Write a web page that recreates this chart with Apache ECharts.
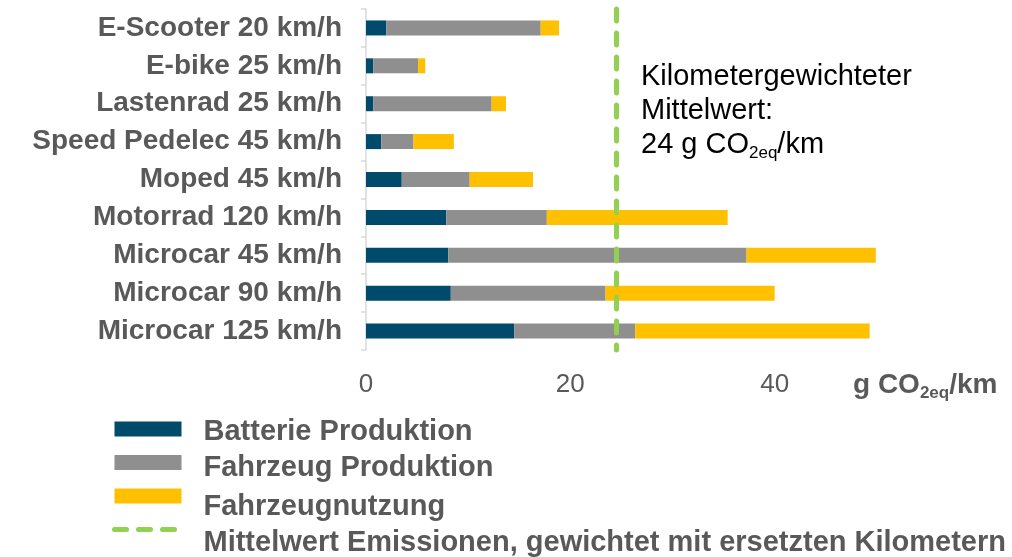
<!DOCTYPE html>
<html>
<head>
<meta charset="utf-8">
<script src="https://cdn.jsdelivr.net/npm/echarts@6/dist/echarts.min.js"></script>
<style>
html,body{margin:0;padding:0;background:#fff;}
#chart{width:1012px;height:557px;}
</style>
</head>
<body>
<div id="chart"></div>
<script>
var categories = ['E-Scooter 20 km/h','E-bike 25 km/h','Lastenrad 25 km/h','Speed Pedelec 45 km/h','Moped 45 km/h','Motorrad 120 km/h','Microcar 45 km/h','Microcar 90 km/h','Microcar 125 km/h'];
var batterieProduktion = [2.0, 0.7, 0.7, 1.5, 3.5, 7.85, 8.05, 8.3, 14.5];
var fahrzeugProduktion = [15.1, 4.4, 11.6, 3.15, 6.65, 9.85, 29.2, 15.15, 11.85];
var fahrzeugnutzung = [1.8, 0.7, 1.4, 3.95, 6.2, 17.7, 12.65, 16.55, 22.95];
var mittelwert = 24.5;
var xTicks = [0, 20, 40];
var seriesNames = ['Batterie Produktion','Fahrzeug Produktion','Fahrzeugnutzung','Mittelwert Emissionen, gewichtet mit ersetzten Kilometern'];

var FONT = 'Liberation Sans, Arial, Helvetica, sans-serif';
var chart = echarts.init(document.getElementById('chart'));
var barCommon = {type:'bar', stack:'total', barWidth:15, silent:true, emphasis:{disabled:true}};

var legendRich = {m:{fontSize:29, lineHeight:28, fontWeight:'bold', fontFamily:FONT, color:'#595959'}};
function legendText(pT, pB) {
  return {color:'#595959', fontSize:29, lineHeight:28, fontWeight:'bold', fontFamily:FONT,
          padding:[pT,0,pB,17], rich:legendRich};
}

chart.setOption({
  animation:false,
  textStyle:{fontFamily:FONT},
  grid:{left:366, top:9, right:33, bottom:207, containLabel:false},
  xAxis:{
    type:'value', min:0, max:60, interval:20,
    axisLine:{show:false}, axisTick:{show:false}, splitLine:{show:false},
    axisLabel:{color:'#595959', fontSize:26, fontFamily:FONT, margin:22,
      formatter:function(v){ return xTicks.indexOf(v) >= 0 ? String(v) : ''; }}
  },
  yAxis:{
    type:'category', data:categories, inverse:true,
    axisLine:{show:true, lineStyle:{color:'#D9D9D9', width:1.5}},
    axisTick:{show:true, length:5, lineStyle:{color:'#D9D9D9', width:1.5}},
    axisLabel:{color:'#595959', fontSize:28, fontWeight:'bold', fontFamily:FONT, margin:24}
  },
  legend:{
    orient:'vertical', left:112, top:403, height:220, padding:0,
    itemWidth:67, itemHeight:15, itemGap:-20,
    selectedMode:false,
    formatter:function(name){ return '{m|' + name + '}'; },
    textStyle:legendText(0,0),
    data:[
      {name:seriesNames[0], icon:'rect', textStyle:legendText(15,9)},
      {name:seriesNames[1], icon:'rect', textStyle:legendText(18.5,8.5)},
      {name:seriesNames[2], icon:'rect', textStyle:legendText(23,1)},
      {name:seriesNames[3], textStyle:legendText(26.5,0.5),
       itemStyle:{color:'rgba(0,0,0,0)', borderWidth:0, opacity:0},
       lineStyle:{width:5, color:'#92D050', type:[12,12], cap:'round', opacity:1}}
    ]
  },
  series:[
    Object.assign({name:seriesNames[0], data:batterieProduktion, itemStyle:{color:'#004B6B'}}, barCommon),
    Object.assign({name:seriesNames[1], data:fahrzeugProduktion, itemStyle:{color:'#8F8F8F'}}, barCommon),
    Object.assign({name:seriesNames[2], data:fahrzeugnutzung, itemStyle:{color:'#FFC000'}}, barCommon),
    {
      name:seriesNames[3], type:'line', data:[], symbol:'none', silent:true,
      lineStyle:{color:'#92D050', width:5, type:[12,12], cap:'round'},
      itemStyle:{color:'#92D050'},
      markLine:{
        silent:true, symbol:['none','none'], label:{show:false},
        lineStyle:{color:'#92D050', width:5, type:[12,12], cap:'round'},
        emphasis:{disabled:true},
        data:[{xAxis:mittelwert}]
      }
    }
  ],
  graphic:[
    {
      type:'text', left:641, top:60, silent:true,
      style:{
        text:'Kilometergewichteter\nMittelwert:\n24 g CO{sub|2eq}/km',
        fill:'#000', font:'29px ' + FONT, lineHeight:34,
        rich:{sub:{fontSize:17, fontFamily:FONT, fill:'#000', lineHeight:14, verticalAlign:'bottom'}}
      }
    },
    {
      type:'text', left:853, top:368, silent:true,
      style:{
        text:'g CO{sub|2eq}/km',
        fill:'#595959', font:'bold 28px ' + FONT, lineHeight:34,
        rich:{sub:{fontSize:17, fontWeight:'bold', fontFamily:FONT, fill:'#595959', lineHeight:14, verticalAlign:'bottom'}}
      }
    }
  ]
});
</script>
</body>
</html>
